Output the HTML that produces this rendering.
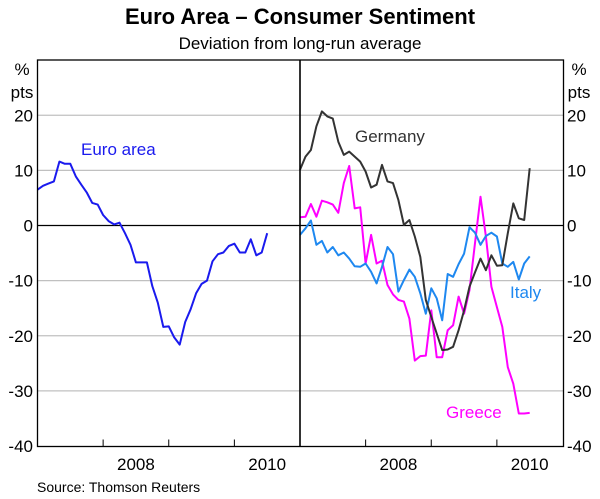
<!DOCTYPE html>
<html><head><meta charset="utf-8"><style>
body{margin:0;background:#fff;}
svg{display:block;font-family:"Liberation Sans",Arial,sans-serif;}
</style></head><body>
<svg id="c" width="600" height="499"></svg>
<script>
const euroArea=[6.5,7.2,7.6,8.0,11.6,11.2,11.2,8.9,7.4,6.0,4.1,3.8,1.9,0.8,0.2,0.5,-1.4,-3.5,-6.7,-6.7,-6.7,-11.0,-14.0,-18.4,-18.3,-20.3,-21.6,-17.5,-15.2,-12.3,-10.6,-10.0,-6.5,-5.2,-4.9,-3.7,-3.3,-4.9,-4.9,-2.5,-5.4,-4.9,-1.4];
const germany=[10.1,12.5,13.7,18,20.7,19.8,19.4,15.2,12.8,13.4,12.5,11.6,9.8,6.9,7.4,11,8,7.7,4.6,0.1,1,-2,-5.7,-13.5,-16.6,-19.6,-22.6,-22.5,-22,-19,-15.4,-11.1,-8.5,-6,-8.1,-5.4,-7.3,-7.2,-1.4,4,1.3,1,10.4];
const italy=[-1.7,-0.5,0.9,-3.5,-2.8,-4.9,-3.9,-5.4,-4.9,-6,-7.4,-7.5,-6.9,-8.4,-10.5,-7.5,-3.9,-5.2,-12,-9.9,-8,-9.3,-12.3,-16,-11.4,-13.2,-17.2,-8.8,-9.3,-7,-5.1,-0.3,-1.3,-3.5,-1.9,-1.3,-2,-6.9,-7.5,-6.6,-9.8,-6.9,-5.6];
const greece=[1.5,1.6,3.9,1.6,4.5,4.2,3.8,2.3,7.7,10.8,3.1,3.3,-6.9,-1.7,-6.9,-6.4,-10.8,-12.5,-13.5,-13.8,-16.9,-24.5,-23.7,-23.6,-15.4,-23.9,-23.9,-19,-18.1,-12.9,-16,-11.7,-3.2,5.2,-2,-11.1,-14.8,-18.4,-25.7,-28.7,-34.1,-34.1,-34];
const yTicks=[20,10,0,-10,-20,-30,-40];
const yearLabels=["2008","2010"];

const NS="http://www.w3.org/2000/svg";
const svg=document.getElementById('c');
function el(t,a,txt){const e=document.createElementNS(NS,t);for(const k in a)e.setAttribute(k,a[k]);if(txt!=null)e.textContent=txt;svg.appendChild(e);return e;}
const L=37.5,M=300,R=563.5,T=60,B=446.5;
const y=v=>225.5-v*5.5125;
const monthW=(M-L)/48;
const xl=m=>L+m*monthW, xr=m=>M+m*monthW;

let e;
e=el('text',{x:300,y:24,'text-anchor':'middle','font-size':22,'font-weight':'bold'},'Euro Area – Consumer Sentiment');


e=el('text',{x:300,y:49,'text-anchor':'middle','font-size':17},'Deviation from long-run average');



yTicks.forEach(v=>{
  if(v!==0&&v!==-40){
    e=el('line',{x1:L,x2:R,y1:y(v),y2:y(v),stroke:'#c0c0c0','stroke-width':1.2});
    
    
  }
  e=el('text',{x:33,y:y(v)+6,'text-anchor':'end','font-size':17},String(v));
  
  
  e=el('text',{x:567,y:y(v)+6,'text-anchor':'start','font-size':17},String(v));
  
  
});
e=el('line',{x1:L,x2:R,y1:y(0),y2:y(0),stroke:'#000','stroke-width':1.2});


[[22,'%',75],[22,'pts',98]].forEach(a=>{
  e=el('text',{x:a[0],y:a[2],'text-anchor':'middle','font-size':17},a[1]);
  
  
  e=el('text',{x:579,y:a[2],'text-anchor':'middle','font-size':17},a[1]);
  
  
});

[L,M].forEach(x0=>{
  for(let yr=1;yr<4;yr++){
    const x=x0+yr*12*monthW;
    e=el('line',{x1:x,x2:x,y1:B,y2:B-7,stroke:'#000','stroke-width':1});
    
    
  }
  yearLabels.forEach((lab,i)=>{
    const x=x0+(18+i*24)*monthW;
    e=el('text',{x:x,y:470,'text-anchor':'middle','font-size':17},lab);
    
    
  });
});

function line(data,fx,color,name){
  const d=data.map((v,i)=>(i?'L':'M')+fx(i).toFixed(1)+','+y(v).toFixed(1)).join('');
  const p=el('path',{d:d,fill:'none',stroke:color,'stroke-width':2,'stroke-linejoin':'round'});
  
  
}
line(euroArea,xl,'#1a1aee','euro-area-line');
line(greece,xr,'#ff00ff','greece-line');
line(italy,xr,'#1e88f0','italy-line');
line(germany,xr,'#333333','germany-line');

e=el('rect',{x:L,y:T,width:R-L,height:B-T,fill:'none',stroke:'#000','stroke-width':1.3});


e=el('line',{x1:M,x2:M,y1:T,y2:B,stroke:'#000','stroke-width':1.6});



[[81,155,'#1a1aee','Euro area','euro-area-label'],[355,142,'#333333','Germany','germany-label'],[510,298,'#1e88f0','Italy','italy-label'],[446,418,'#ff00ff','Greece','greece-label']].forEach(a=>{
  e=el('text',{x:a[0],y:a[1],fill:a[2],'font-size':17},a[3]);
  
  
});
e=el('text',{x:37,y:492,'font-size':14},'Source: Thomson Reuters');


</script>
</body></html>
